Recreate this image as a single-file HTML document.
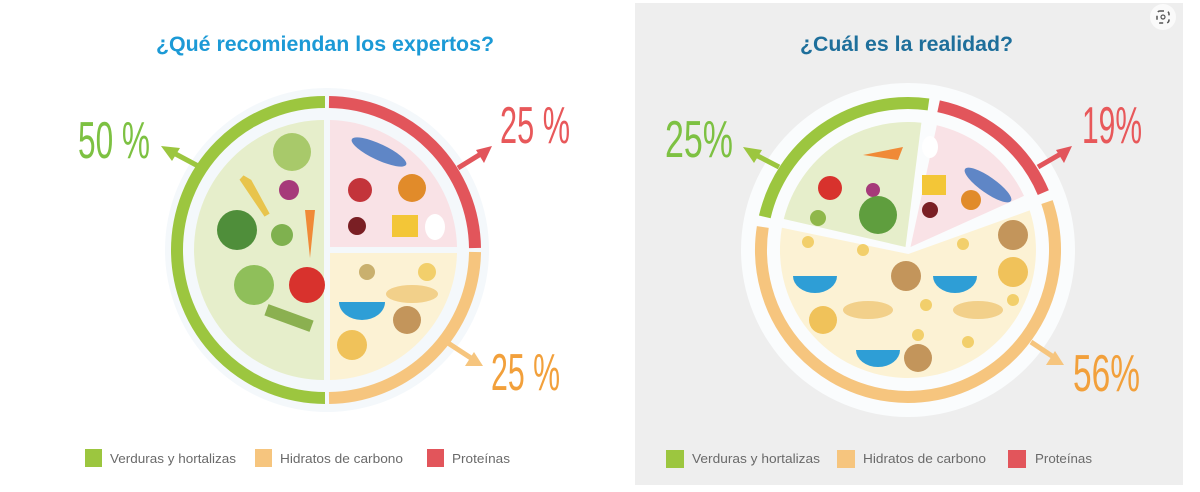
<!DOCTYPE html>
<html><head><meta charset="utf-8"><style>
html,body{margin:0;padding:0;background:#fff;}
svg{display:block;}
text{font-family:"Liberation Sans",sans-serif;}
.t{font-weight:bold;font-size:21px;}
.lg{font-size:13px;fill:#6a6a6a;}
.p{font-family:"Liberation Sans Narrow","Liberation Sans",sans-serif;font-size:52px;}
</style></head><body>
<svg width="1200" height="492" viewBox="0 0 1200 492" xmlns="http://www.w3.org/2000/svg">
<rect x="0" y="0" width="1200" height="492" fill="#fff"/>
<rect x="635" y="3" width="548" height="482" fill="#eeeeee"/>

<!-- LEFT -->
<text class="t" x="156" y="51" fill="#1c9ad6" textLength="338" lengthAdjust="spacingAndGlyphs">¿Qué recomiendan los expertos?</text>
<g transform="translate(327,250)">
  <circle r="162" fill="#f4f8fb"/>
  <path d="M-2 -148 A148 148 0 0 0 -2 148" fill="none" stroke="#9cc63f" stroke-width="12"/>
  <path d="M2 -148 A148 148 0 0 1 148 -2" fill="none" stroke="#e2555b" stroke-width="12"/>
  <path d="M148 2 A148 148 0 0 1 2 148" fill="none" stroke="#f6c57e" stroke-width="12"/>
  <path d="M-3 -130 A130 130 0 0 0 -3 130 Z" fill="#e6eecb"/>
  <path d="M3 -3 L3 -130 A130 130 0 0 1 130 -3 Z" fill="#f9e2e6"/>
  <path d="M3 3 L130 3 A130 130 0 0 1 3 130 Z" fill="#fcf2d4"/>
  <circle cx="-35" cy="-98" r="19" fill="#a8c96a"/>
  <circle cx="-38" cy="-60" r="10" fill="#a63a7a"/>
  <path d="M-85 -72 L-60 -35 L-78 -68 Z" fill="#e8c44c" stroke="#e8c44c" stroke-width="6"/>
  <circle cx="-90" cy="-20" r="20" fill="#4f8e3a"/>
  <circle cx="-45" cy="-15" r="11" fill="#7fb14f"/>
  <path d="M-22 -40 L-12 -40 L-17 8 Z" fill="#f08a37"/>
  <circle cx="-73" cy="35" r="20" fill="#8fbf5a"/>
  <circle cx="-20" cy="35" r="18" fill="#d8322d"/>
  <rect x="-62" y="62" width="48" height="12" fill="#8bb050" transform="rotate(20 -38 68)"/>
  <ellipse cx="52" cy="-98" rx="30" ry="8" fill="#5f86c6" transform="rotate(25 52 -98)"/>
  <circle cx="33" cy="-60" r="12" fill="#c3343a"/>
  <circle cx="85" cy="-62" r="14" fill="#e18b2a"/>
  <circle cx="30" cy="-24" r="9" fill="#7a1f24"/>
  <rect x="65" y="-35" width="26" height="22" fill="#f3c637"/>
  <ellipse cx="108" cy="-23" rx="10" ry="13" fill="#fff"/>
  <circle cx="40" cy="22" r="8" fill="#c9b06e"/>
  <circle cx="100" cy="22" r="9" fill="#f2cf6b"/>
  <ellipse cx="85" cy="44" rx="26" ry="9" fill="#f2d08a"/>
  <path d="M12 52 h46 a23 18 0 0 1 -46 0 Z" fill="#2e9ed6"/>
  <circle cx="80" cy="70" r="14" fill="#c3955b"/>
  <circle cx="25" cy="95" r="15" fill="#f0c25a"/>
</g>
<path d="M200 167 L170 151" stroke="#9cc63f" stroke-width="5"/>
<path d="M161 146 L180 148 L172 161 Z" fill="#9cc63f"/>
<path d="M458 168 L484 152" stroke="#e2555b" stroke-width="5"/>
<path d="M492 146 L484 163 L476 150 Z" fill="#e2555b"/>
<path d="M448 343 L474 360" stroke="#f6c57e" stroke-width="5"/>
<path d="M483 366 L465 366 L474 352 Z" fill="#f6c57e"/>
<text class="p" x="78" y="158" fill="#7dc142" textLength="72" lengthAdjust="spacingAndGlyphs">50 %</text>
<text class="p" x="500" y="143" fill="#e8585a" textLength="70" lengthAdjust="spacingAndGlyphs">25 %</text>
<text class="p" x="491" y="390" fill="#f2a03b" textLength="69" lengthAdjust="spacingAndGlyphs">25 %</text>
<rect x="85" y="449" width="17" height="18" fill="#9cc63f"/>
<text class="lg" x="110" y="463" textLength="126" lengthAdjust="spacingAndGlyphs">Verduras y hortalizas</text>
<rect x="255" y="449" width="17" height="18" fill="#f6c57e"/>
<text class="lg" x="280" y="463" textLength="123" lengthAdjust="spacingAndGlyphs">Hidratos de carbono</text>
<rect x="427" y="449" width="17" height="18" fill="#e2555b"/>
<text class="lg" x="452" y="463" textLength="58" lengthAdjust="spacingAndGlyphs">Proteínas</text>

<!-- RIGHT -->
<circle cx="1163" cy="17" r="13" fill="#fafafa"/>
<rect x="1157" y="11" width="12" height="12" rx="3" fill="none" stroke="#555" stroke-width="1.5" stroke-dasharray="4 4"/>
<circle cx="1163" cy="17" r="2" fill="none" stroke="#555" stroke-width="1.2"/>
<text class="t" x="800" y="51" fill="#1e6f9b" textLength="213" lengthAdjust="spacingAndGlyphs">¿Cuál es la realidad?</text>
<g transform="translate(908,250)">
  <circle r="167" fill="#fafcfd"/>
  <path d="M-143.2 -33.1 A147 147 0 0 1 20.5 -145.6" fill="none" stroke="#9cc63f" stroke-width="12"/>
  <path d="M30.6 -143.8 A147 147 0 0 1 135.3 -57.4" fill="none" stroke="#e2555b" stroke-width="12"/>
  <path d="M139 -47.9 A147 147 0 1 1 -145.2 -23" fill="none" stroke="#f6c57e" stroke-width="12"/>
  <path d="M-2.5 -3 L-124.2 -31 A128 128 0 0 1 13.4 -127.3 Z" fill="#e6eecb"/>
  <path d="M2.5 -3 L28.8 -124.7 A128 128 0 0 1 116 -54.1 Z" fill="#f9e2e6"/>
  <path d="M0.3 4 L121.7 -39.6 A128 128 0 1 1 -126.1 -22.2 Z" fill="#fcf2d4"/>
  <path d="M-45 -95 L-5 -103 L-10 -90 Z" fill="#f08a37"/>
  <circle cx="-78" cy="-62" r="12" fill="#d8322d"/>
  <circle cx="-35" cy="-60" r="7" fill="#a63a7a"/>
  <circle cx="-30" cy="-35" r="19" fill="#5f9e3e"/>
  <circle cx="-90" cy="-32" r="8" fill="#8fb74a"/>
  <ellipse cx="22" cy="-103" rx="8" ry="11" fill="#fff"/>
  <rect x="14" y="-75" width="24" height="20" fill="#f3c637"/>
  <ellipse cx="80" cy="-65" rx="28" ry="8" fill="#5f86c6" transform="rotate(35 80 -65)"/>
  <circle cx="63" cy="-50" r="10" fill="#e18b2a"/>
  <circle cx="22" cy="-40" r="8" fill="#7a1f24"/>
  <circle cx="105" cy="-15" r="15" fill="#c3955b"/>
  <circle cx="105" cy="22" r="15" fill="#f0c25a"/>
  <path d="M-115 26 h44 a22 17 0 0 1 -44 0 Z" fill="#2e9ed6"/>
  <path d="M25 26 h44 a22 17 0 0 1 -44 0 Z" fill="#2e9ed6"/>
  <path d="M-52 100 h44 a22 17 0 0 1 -44 0 Z" fill="#2e9ed6"/>
  <circle cx="-2" cy="26" r="15" fill="#c3955b"/>
  <ellipse cx="-40" cy="60" rx="25" ry="9" fill="#f2d08a"/>
  <ellipse cx="70" cy="60" rx="25" ry="9" fill="#f2d08a"/>
  <circle cx="-85" cy="70" r="14" fill="#f0c25a"/>
  <circle cx="10" cy="108" r="14" fill="#c3955b"/>
  <circle cx="-100" cy="-8" r="6" fill="#f2cf6b"/>
  <circle cx="-45" cy="0" r="6" fill="#f2cf6b"/>
  <circle cx="55" cy="-6" r="6" fill="#f2cf6b"/>
  <circle cx="18" cy="55" r="6" fill="#f2cf6b"/>
  <circle cx="105" cy="50" r="6" fill="#f2cf6b"/>
  <circle cx="10" cy="85" r="6" fill="#f2cf6b"/>
  <circle cx="60" cy="92" r="6" fill="#f2cf6b"/>
</g>
<path d="M779 167 L752 153" stroke="#9cc63f" stroke-width="5"/>
<path d="M743 147 L762 150 L754 163 Z" fill="#9cc63f"/>
<path d="M1038 167 L1064 152" stroke="#e2555b" stroke-width="5"/>
<path d="M1072 146 L1064 163 L1056 150 Z" fill="#e2555b"/>
<path d="M1031 342 L1055 358" stroke="#f6c57e" stroke-width="5"/>
<path d="M1064 365 L1046 365 L1055 351 Z" fill="#f6c57e"/>
<text class="p" x="665" y="157" fill="#7dc142" textLength="68" lengthAdjust="spacingAndGlyphs">25%</text>
<text class="p" x="1082" y="143" fill="#e8585a" textLength="60" lengthAdjust="spacingAndGlyphs">19%</text>
<text class="p" x="1073" y="391" fill="#f2a03b" textLength="67" lengthAdjust="spacingAndGlyphs">56%</text>
<rect x="666" y="450" width="18" height="18" fill="#9cc63f"/>
<text class="lg" x="692" y="463" textLength="128" lengthAdjust="spacingAndGlyphs">Verduras y hortalizas</text>
<rect x="837" y="450" width="18" height="18" fill="#f6c57e"/>
<text class="lg" x="863" y="463" textLength="123" lengthAdjust="spacingAndGlyphs">Hidratos de carbono</text>
<rect x="1008" y="450" width="18" height="18" fill="#e2555b"/>
<text class="lg" x="1035" y="463" textLength="57" lengthAdjust="spacingAndGlyphs">Proteínas</text>
</svg>
</body></html>
